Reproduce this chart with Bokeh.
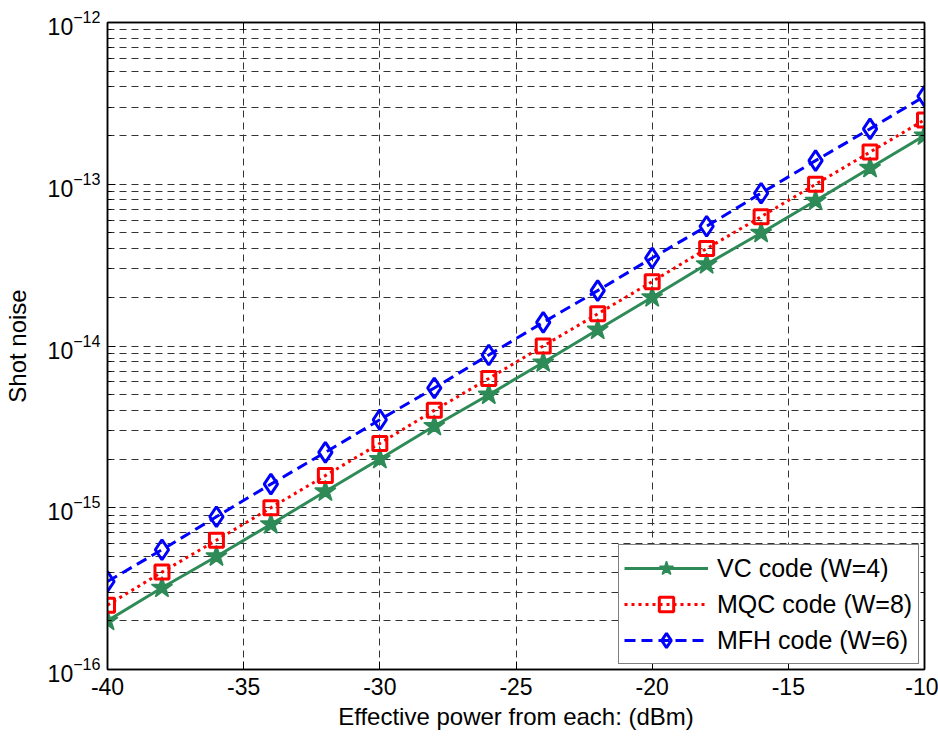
from bokeh.plotting import figure
from bokeh.models import (FixedTicker, LogTickFormatter, LinearAxis, LogAxis,
                          Legend, LegendItem, Range1d, CustomJSTickFormatter)
from bokeh.embed import file_html
from bokeh.resources import INLINE

# Effective power (dBm) and shot noise for each code
power_dbm = [-40, -38, -36, -34, -32, -30, -28, -26, -24, -22, -20, -18, -16, -14, -12, -10]
vc_noise = [2.0e-16, 3.2e-16, 5.0e-16, 7.9e-16, 1.26e-15, 2.0e-15, 3.2e-15, 5.0e-15,
            7.9e-15, 1.26e-14, 2.0e-14, 3.2e-14, 5.0e-14, 7.9e-14, 1.26e-13, 2.0e-13]
mqc_noise = [2.5e-16, 4.0e-16, 6.3e-16, 1.0e-15, 1.58e-15, 2.5e-15, 4.0e-15, 6.3e-15,
             1.0e-14, 1.58e-14, 2.5e-14, 4.0e-14, 6.3e-14, 1.0e-13, 1.58e-13, 2.5e-13]
mfh_noise = [3.5e-16, 5.5e-16, 8.8e-16, 1.4e-15, 2.2e-15, 3.5e-15, 5.5e-15, 8.8e-15,
             1.4e-14, 2.2e-14, 3.5e-14, 5.5e-14, 8.8e-14, 1.4e-13, 2.2e-13, 3.5e-13]

x_ticks = [-40, -35, -30, -25, -20, -15, -10]
x_tick_labels = ["-40", "-35", "-30", "-25", "-20", "-15", "-10"]
y_decades = [1e-16, 1e-15, 1e-14, 1e-13, 1e-12]
y_minor = [m * d for d in y_decades[:-1] for m in range(2, 10)]

FONT = "Liberation Sans"

p = figure(width=938, height=739, y_axis_type="log",
           x_range=Range1d(-40, -10), y_range=Range1d(1e-16, 1e-12),
           output_backend="svg", toolbar_location=None,
           min_border_left=105, min_border_right=14, min_border_top=22,
           min_border_bottom=70)
p.outline_line_color = "black"
p.outline_line_width = 1.5
p.background_fill_color = "white"
p.border_fill_color = "white"

xt = FixedTicker(ticks=x_ticks)
yt = FixedTicker(ticks=y_decades, minor_ticks=y_minor)

p.xaxis.ticker = xt
p.xaxis.major_label_overrides = dict(zip(x_ticks, x_tick_labels))
p.yaxis.ticker = yt
p.yaxis.formatter = LogTickFormatter()

for ax in (p.xaxis[0], p.yaxis[0]):
    ax.axis_line_color = "black"
    ax.axis_line_width = 1.5
    ax.major_tick_in = 8
    ax.major_tick_out = 0
    ax.minor_tick_in = 4
    ax.minor_tick_out = 0
    ax.major_tick_line_color = "black"
    ax.minor_tick_line_color = "black"
    ax.major_label_text_font = FONT
    ax.major_label_text_color = "black"
    ax.major_label_text_font_size = "23px"
    ax.axis_label_text_font = FONT
    ax.axis_label_text_font_size = "24px"
    ax.axis_label_text_font_style = "normal"
    ax.axis_label_text_color = "black"

p.xaxis.axis_label = "Effective power from each: (dBm)"
p.yaxis.axis_label = "Shot noise"
p.xaxis.major_label_standoff = 8
p.yaxis.major_label_standoff = 7
p.xaxis.axis_label_standoff = 5
p.yaxis.axis_label_standoff = 14

# box ticks on the top and right edges, with blank labels
blank = CustomJSTickFormatter(code="return ''")
top = LinearAxis(ticker=xt, formatter=blank, axis_line_width=1.5,
                 major_label_standoff=0,
                 major_tick_in=8, major_tick_out=0, minor_tick_in=0, minor_tick_out=0)
right = LogAxis(ticker=yt, formatter=blank, axis_line_width=1.5,
                major_label_standoff=0,
                major_tick_in=8, major_tick_out=0, minor_tick_in=4, minor_tick_out=0)
p.add_layout(top, "above")
p.add_layout(right, "right")

# dashed grid on major and minor positions
p.xgrid.ticker = xt
p.ygrid.ticker = yt
for g in (p.xgrid[0], p.ygrid[0]):
    g.grid_line_color = "#333333"
    g.grid_line_dash = "7 5"
    g.grid_line_width = 1
p.ygrid.minor_grid_line_color = "#333333"
p.ygrid.minor_grid_line_dash = "7 5"
p.ygrid.minor_grid_line_width = 1

GREEN = "#2e8b57"
RED = "#ff0000"
BLUE = "#0000ff"

vc_line = p.line(power_dbm, vc_noise, line_color=GREEN, line_width=3)
vc_mark = p.scatter(power_dbm, vc_noise, marker="star", size=22, fill_color=GREEN,
                    line_color=GREEN, line_width=1.5)

mqc_line = p.line(power_dbm, mqc_noise, line_color=RED, line_width=3, line_dash="3 4")
mqc_mark = p.scatter(power_dbm, mqc_noise, marker="square", size=14, fill_color=None,
                     line_color=RED, line_width=3)

mfh_line = p.line(power_dbm, mfh_noise, line_color=BLUE, line_width=3, line_dash="11 6")
mfh_mark = p.scatter(power_dbm, mfh_noise, marker="diamond", size=20,
                     fill_color=None, line_color=BLUE, line_width=3)

legend = Legend(items=[
    LegendItem(label="VC code (W=4)", renderers=[vc_line, vc_mark]),
    LegendItem(label="MQC code (W=8)", renderers=[mqc_line, mqc_mark]),
    LegendItem(label="MFH code (W=6)", renderers=[mfh_line, mfh_mark]),
], location="bottom_right")
legend.label_text_font = FONT
legend.label_text_font_size = "25px"
legend.label_text_color = "black"
legend.border_line_color = "black"
legend.border_line_width = 1.5
legend.background_fill_alpha = 1
legend.glyph_width = 84
legend.glyph_height = 36
legend.label_height = 36
legend.spacing = -1
legend.padding = 5
legend.margin = 5
legend.label_standoff = 9
legend.label_width = 196
p.add_layout(legend)

open("out.html", "w").write(file_html(p, INLINE))
